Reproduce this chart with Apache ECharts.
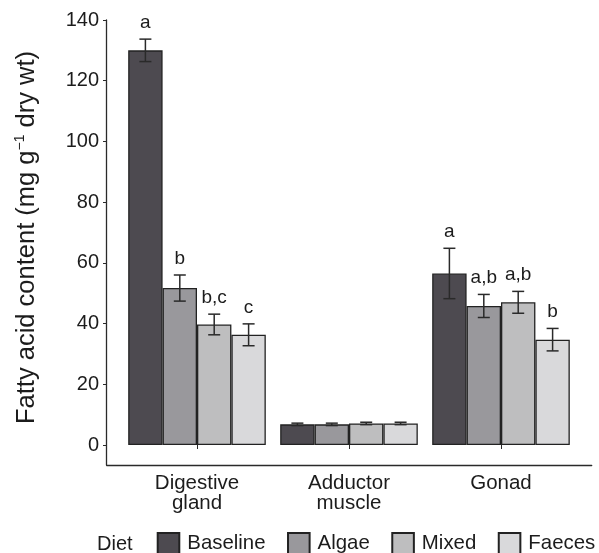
<!DOCTYPE html>
<html>
<head>
<meta charset="utf-8">
<style>
  html, body { margin: 0; padding: 0; background: #fff; }
  #chart { width: 599px; height: 553px; }
</style>
<script src="https://cdn.jsdelivr.net/npm/echarts@6/dist/echarts.min.js"></script>
</head>
<body>
<div id="chart"></div>
<script>
// Tissue categories and diet treatments
const categories = ['Digestive\ngland', 'Adductor\nmuscle', 'Gonad'];
const diets = ['Baseline', 'Algae', 'Mixed', 'Faeces'];

// Mean fatty acid content (mg g-1 dry wt) per tissue
const baselineMean = [130.0, 6.8, 56.5];
const algaeMean    = [51.7, 6.8, 45.8];
const mixedMean    = [39.7, 7.1, 47.0];
const faecesMean   = [36.3, 7.1, 34.7];

// Standard errors
const baselineErr = [3.7, 0.4, 8.3];
const algaeErr    = [4.3, 0.4, 3.8];
const mixedErr    = [3.4, 0.4, 3.6];
const faecesErr   = [3.6, 0.4, 3.7];

// Significance letters
const baselineSig = ['a', '', 'a'];
const algaeSig    = ['b', '', 'a,b'];
const mixedSig    = ['b,c', '', 'a,b'];
const faecesSig   = ['c', '', 'b'];

// Y axis ticks
const yMin = 0, yMax = 140, yStep = 20;

const means = [baselineMean, algaeMean, mixedMean, faecesMean];
const errs = [baselineErr, algaeErr, mixedErr, faecesErr];
const sigs = [baselineSig, algaeSig, mixedSig, faecesSig];
const colors = ['#4d4a50', '#99989c', '#bebebf', '#d9d9db'];

const FONT = "'Liberation Sans', Arial, Helvetica, sans-serif";
const TEXT = '#1c1c1c';
const LINE = '#2a2a2a';
const BAR_W = 34.4;

const barSeries = diets.map((d, k) => ({
  name: d,
  type: 'bar',
  xAxisIndex: 0,
  yAxisIndex: 0,
  barWidth: BAR_W,
  barGap: '0%',
  data: means[k],
  itemStyle: { color: colors[k], borderColor: '#222', borderWidth: 1.3 },
  emphasis: { disabled: true },
  z: 2
}));

const errSeries = diets.map((d, k) => ({
  name: d + ' SE',
  type: 'custom',
  xAxisIndex: 0,
  yAxisIndex: 0,
  clip: false,
  z: 5,
  data: categories.map((c, i) => [i, means[k][i], errs[k][i], sigs[k][i]]),
  encode: { x: 0, y: 1 },
  renderItem: function (params, api) {
    const i = api.value(0);
    const m = api.value(1);
    const e = api.value(2);
    const sig = sigs[k][i];
    const offset = (k - 1.5) * BAR_W;
    const top = api.coord([i, m + e]);
    const bot = api.coord([i, m - e]);
    const x = top[0] + offset;
    const half = 6;
    const style = { stroke: LINE, lineWidth: 1.5 };
    const children = [
      { type: 'line', shape: { x1: x, y1: top[1], x2: x, y2: bot[1] }, style },
      { type: 'line', shape: { x1: x - half, y1: top[1], x2: x + half, y2: top[1] }, style },
      { type: 'line', shape: { x1: x - half, y1: bot[1], x2: x + half, y2: bot[1] }, style }
    ];
    if (sig) {
      children.push({
        type: 'text',
        style: {
          text: sig, x: x, y: top[1] - 7,
          align: 'center', verticalAlign: 'bottom',
          fontSize: 19, fontFamily: FONT, fill: TEXT
        }
      });
    }
    return { type: 'group', children };
  }
}));

const chart = echarts.init(document.getElementById('chart'), null, { renderer: 'canvas' });
chart.setOption({
  backgroundColor: '#fff',
  animation: false,
  textStyle: { fontFamily: FONT },
  title: {
    text: 'Diet',
    left: 97,
    top: 534,
    padding: 0,
    textStyle: { fontSize: 20, fontWeight: 'normal', color: TEXT, fontFamily: FONT }
  },
  legend: {
    data: diets,
    left: 156.7,
    top: 532,
    padding: 0,
    itemWidth: 21.6,
    itemHeight: 21,
    itemGap: 21.5,
    icon: 'rect',
    selectedMode: false,
    textStyle: { fontSize: 20.4, color: TEXT, fontFamily: FONT, padding: [0, 0, 0, 3] }
  },
  grid: [
    { left: 121, top: 20, width: 456, height: 425 },
    { left: 106.7, top: 20, width: 485, height: 445 }
  ],
  xAxis: [
    {
      type: 'category',
      gridIndex: 0,
      data: categories,
      offset: 20,
      axisLine: { show: false },
      axisTick: { show: true, alignWithLabel: true, length: 4, lineStyle: { color: LINE, width: 1 } },
      axisLabel: { fontSize: 20.5, lineHeight: 20, color: TEXT, margin: 8, fontFamily: FONT },
      splitLine: { show: false }
    },
    {
      type: 'value',
      gridIndex: 1,
      min: 0, max: 1,
      axisLine: { show: true, onZero: false, lineStyle: { color: LINE, width: 1.3 } },
      axisTick: { show: false },
      axisLabel: { show: false },
      splitLine: { show: false }
    }
  ],
  yAxis: [
    {
      type: 'value',
      gridIndex: 0,
      min: yMin, max: yMax, interval: yStep,
      offset: 14,
      axisLine: { show: false },
      axisTick: { show: true, length: 4, lineStyle: { color: LINE, width: 1 } },
      axisLabel: { fontSize: 20, color: TEXT, margin: 8, fontFamily: FONT },
      splitLine: { show: false },
      name: '{t|Fatty acid content (mg g}{sup|\u22121}{t| dry wt)}',
      nameLocation: 'middle',
      nameGap: 66,
      nameRotate: 90,
      nameTextStyle: {
        padding: [0, 10, 0, 0],
        rich: {
          t: { fontSize: 25.5, lineHeight: 28, color: TEXT, fontFamily: FONT },
          sup: { fontSize: 14, lineHeight: 28, verticalAlign: 'top', color: TEXT, fontFamily: FONT, padding: [0, 0, 10, 0] }
        }
      }
    },
    {
      type: 'value',
      gridIndex: 1,
      min: -6.6, max: 140,
      axisLine: { show: true, lineStyle: { color: LINE, width: 1.3 } },
      axisTick: { show: false },
      axisLabel: { show: false },
      splitLine: { show: false }
    }
  ],
  series: barSeries.concat(errSeries)
});
</script>
</body>
</html>
